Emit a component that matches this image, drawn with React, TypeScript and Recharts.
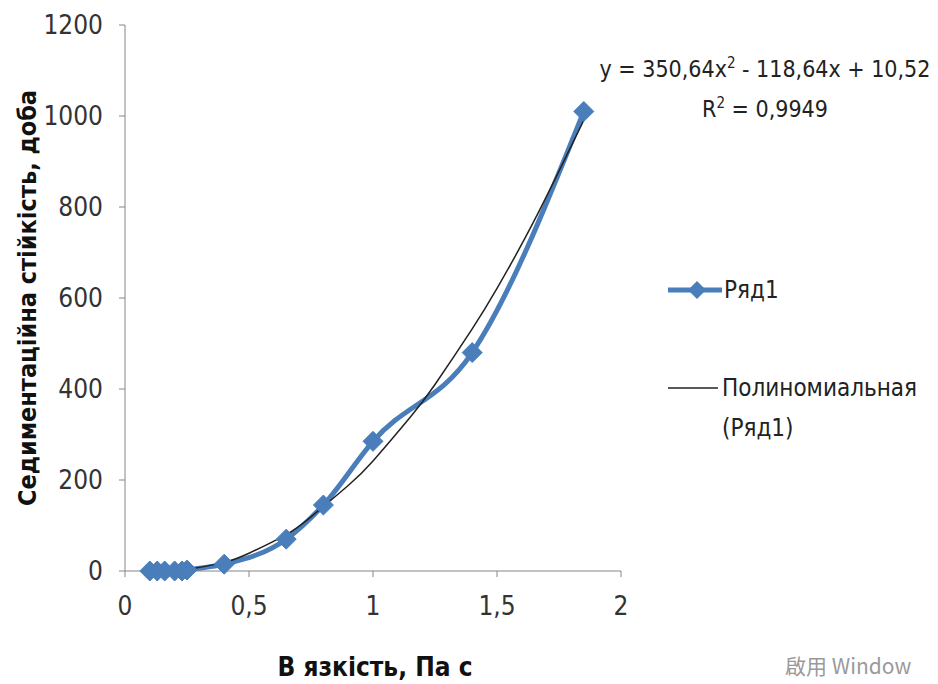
import React from 'react';
import { LineChart, Line, XAxis, YAxis } from 'recharts';

// Measured points (viscosity, Pa·s -> sedimentation stability, days)
const viscosity = [0.1, 0.13, 0.16, 0.2, 0.23, 0.25, 0.4, 0.65, 0.8, 1.0, 1.4, 1.85];
const stability = [0, 0, 0, 0, 0, 2, 15, 70, 145, 285, 480, 1010];

// Polynomial trendline, values
const trendX = [0.25, 0.4, 0.5, 0.65, 0.75, 0.9, 1.0, 1.15, 1.25, 1.4, 1.5, 1.65, 1.85];
const trendY = [3, 19, 39, 80, 119, 188, 242, 338, 410, 532, 621, 770, 991];

const xTicks = [0, 0.5, 1, 1.5, 2];
const yTicks = [0, 200, 400, 600, 800, 1000, 1200];

const series = viscosity.map((x, i) => ({ x, y: stability[i] }));
const trend = trendX.map((x, i) => ({ x, y: trendY[i] }));

const BLUE = '#4a7ebb';
const FONT = '"DejaVu Sans Condensed", "Liberation Sans", sans-serif';
const AXIS = '#868686';

const Diamond = (props: any) => {
    const { cx, cy } = props;
    if (cx == null || cy == null) return null;
    const r = 10;
    return (
        <polygon
            points={`${cx},${cy - r} ${cx + r},${cy} ${cx},${cy + r} ${cx - r},${cy}`}
            fill={BLUE}
            stroke={BLUE}
            strokeWidth={1}
        />
    );
};

const fmt = (v: number) => String(v).replace('.', ',');

export default function App() {
    return (
        <div style={{ position: 'absolute', left: 0, top: 0, width: 938, height: 684, overflow: 'hidden', background: '#fff', fontFamily: FONT }}>
            <LineChart
                width={938}
                height={684}
                margin={{ top: 25, right: 317, bottom: 0, left: 0 }}
            >
                <XAxis
                    dataKey="x"
                    type="number"
                    domain={[0, 2]}
                    ticks={xTicks}
                    tickFormatter={fmt}
                    allowDataOverflow
                    height={113}
                    stroke={AXIS}
                    tickSize={6}
                    tickMargin={20}
                    tick={{ fill: '#333', fontSize: 26, fontFamily: FONT }}
                    label={{
                        content: () => (
                            <text x={375} y={676} textAnchor="middle" fontSize={26} fontWeight="bold" fill="#111" fontFamily={FONT}>
                                В язкість, Па с
                            </text>
                        ),
                    }}
                />
                <YAxis
                    dataKey="y"
                    type="number"
                    domain={[0, 1200]}
                    ticks={yTicks}
                    width={125}
                    stroke={AXIS}
                    tickSize={6}
                    tickMargin={16}
                    tick={{ fill: '#333', fontSize: 26, fontFamily: FONT }}
                    label={{
                        content: () => (
                            <text
                                x={27}
                                y={298}
                                transform="rotate(-90 27 298)"
                                textAnchor="middle"
                                dominantBaseline="central"
                                fontSize={25}
                                fontWeight="bold"
                                fill="#111"
                                fontFamily={FONT}
                            >
                                Седиментаційна стійкість, доба
                            </text>
                        ),
                    }}
                />
                <Line
                    data={series}
                    dataKey="y"
                    type="monotone"
                    stroke={BLUE}
                    strokeWidth={5}
                    dot={<Diamond />}
                    activeDot={false}
                    isAnimationActive={false}
                />
                <Line
                    data={trend}
                    dataKey="y"
                    type="natural"
                    stroke="#222"
                    strokeWidth={1.5}
                    dot={false}
                    activeDot={false}
                    isAnimationActive={false}
                />
            </LineChart>

            {/* trendline equation */}
            <div style={{ position: 'absolute', left: 592, top: 46, width: 346, textAlign: 'center', fontSize: 23, color: '#222', lineHeight: '34px', whiteSpace: 'nowrap' }}>
                <div>y = 350,64x<sup style={{ fontSize: 15 }}>2</sup> - 118,64x + 10,52</div>
                <div>R<sup style={{ fontSize: 15 }}>2</sup> = 0,9949</div>
            </div>

            {/* legend */}
            <div style={{ position: 'absolute', left: 666, top: 270, fontSize: 24, color: '#222', lineHeight: '40px', whiteSpace: 'nowrap' }}>
                <div style={{ display: 'flex', alignItems: 'center' }}>
                    <svg width={58} height={24}>
                        <line x1={2} y1={12} x2={56} y2={12} stroke={BLUE} strokeWidth={5} />
                        <polygon points="31,3 40,12 31,21 22,12" fill={BLUE} />
                    </svg>
                    <span>Ряд1</span>
                </div>
                <div style={{ display: 'flex', alignItems: 'center', marginTop: 58 }}>
                    <svg width={56} height={24}>
                        <line x1={2} y1={12} x2={52} y2={12} stroke="#222" strokeWidth={1.5} />
                    </svg>
                    <span>Полиномиальная</span>
                </div>
                <div style={{ marginLeft: 56 }}>(Ряд1)</div>
            </div>

            <div style={{ position: 'absolute', left: 785, top: 652, fontSize: 21, lineHeight: '26px', color: '#9a9a9a', whiteSpace: 'nowrap', fontFamily: '"Noto Sans CJK TC", "Noto Sans", sans-serif' }}>
                啟用 Window
            </div>
        </div>
    );
}
